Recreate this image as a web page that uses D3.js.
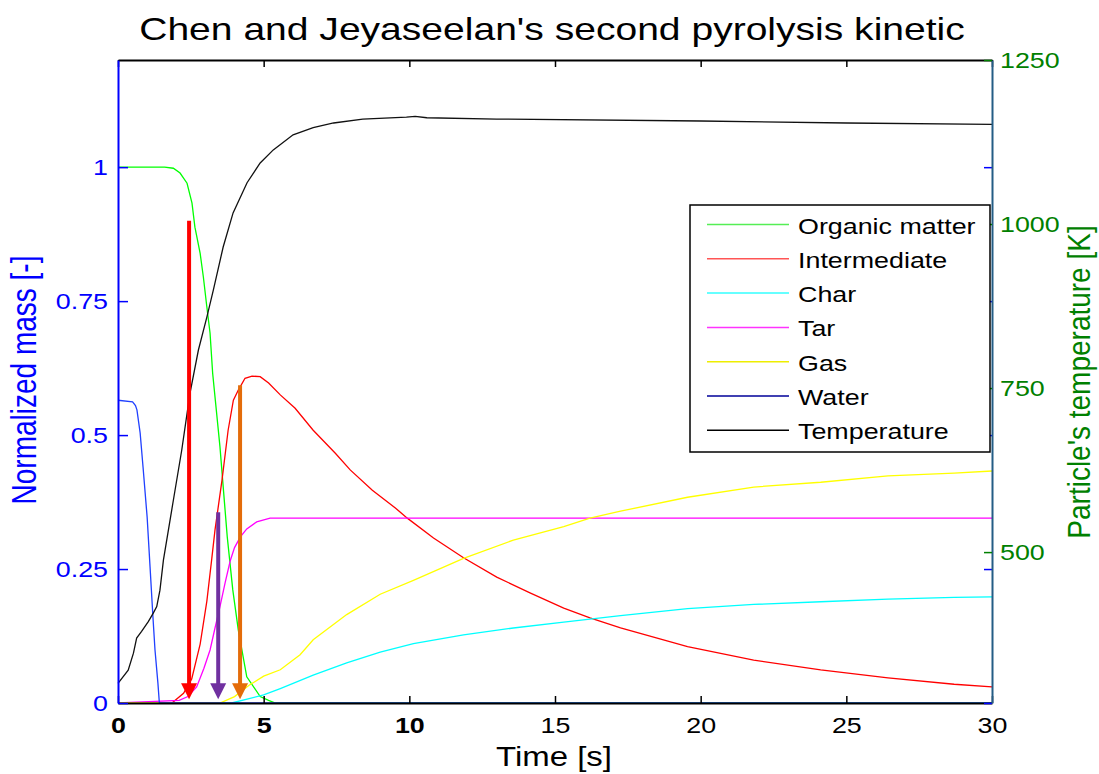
<!DOCTYPE html>
<html>
<head>
<meta charset="utf-8">
<script src="https://cdn.jsdelivr.net/npm/d3@7"></script>
<style>
  body { margin: 0; background: #fff; }
</style>
</head>
<body>
<svg id="chart" width="1099" height="774"></svg>
<script>
// ---- Data: normalized mass of each species [-] vs time [s] ----
const organicMatter = [[0,1],[1.6,1],[1.9,0.998],[2.13,0.989],[2.37,0.97],[2.54,0.933],[2.64,0.888],[2.82,0.839],[2.93,0.795],[3.05,0.739],[3.16,0.69],[3.25,0.615],[3.33,0.571],[3.5,0.478],[3.75,0.31],[3.94,0.211],[4.13,0.136],[4.42,0.049],[4.88,0.012],[5.17,0.005],[5.4,0],[30,0]];
const intermediate = [[0,0],[1.85,0],[2.25,0.018],[2.53,0.045],[2.82,0.11],[3.05,0.19],[3.22,0.27],[3.33,0.323],[3.57,0.416],[3.78,0.509],[3.96,0.565],[4.13,0.584],[4.36,0.606],[4.6,0.61],[4.88,0.609],[5.17,0.597],[5.57,0.575],[6.08,0.55],[6.7,0.509],[7.46,0.466],[7.97,0.435],[8.73,0.397],[9.52,0.364],[9.93,0.345],[10.83,0.308],[11.86,0.271],[13.0,0.235],[14.16,0.205],[15.3,0.177],[16.2,0.159],[17.25,0.14],[19.55,0.105],[21.82,0.08],[24.12,0.062],[26.43,0.047],[28.7,0.035],[30,0.03]];
const charMass = [[0,0],[3.9,0],[4.5,0.008],[5.0,0.015],[5.57,0.027],[6.7,0.052],[7.85,0.075],[9.0,0.095],[10.14,0.111],[11.86,0.127],[13.57,0.14],[15.3,0.151],[17.25,0.163],[19.55,0.176],[21.82,0.184],[24.12,0.189],[26.43,0.194],[28.7,0.197],[30,0.198]];
const tar = [[0,0],[2.1,0.005],[2.4,0.012],[2.7,0.03],[2.95,0.065],[3.16,0.099],[3.33,0.14],[3.5,0.18],[3.68,0.225],[3.85,0.265],[4.0,0.29],[4.2,0.31],[4.42,0.325],[4.76,0.338],[5.22,0.345],[30,0.345]];
const gas = [[0,0],[3.5,0],[4.0,0.012],[4.5,0.033],[5.0,0.05],[5.57,0.062],[6.25,0.09],[6.7,0.118],[7.85,0.165],[9.0,0.203],[10.14,0.229],[11.86,0.27],[13.57,0.304],[15.3,0.329],[16.2,0.345],[17.25,0.358],[19.55,0.384],[21.82,0.403],[24.12,0.412],[26.43,0.424],[28.7,0.429],[30,0.433]];
const water = [[0,0.565],[0.5,0.562],[0.6,0.555],[0.65,0.547],[0.76,0.504],[0.86,0.44],[1.0,0.347],[1.1,0.254],[1.2,0.16],[1.27,0.099],[1.37,0.037],[1.42,0],[30,0]];

// ---- Data: particle temperature [K] vs time [s] ----
const temperature = [[0,300],[0.35,320],[0.53,346],[0.64,369],[0.81,379],[1.04,394],[1.21,407],[1.33,417],[1.44,442],[1.56,488],[1.9,579],[2.19,656],[2.47,742],[2.76,808],[3.05,858],[3.27,899],[3.61,965],[3.95,1017],[4.43,1063],[4.88,1093],[5.33,1113],[6.01,1136],[6.7,1147],[7.4,1154],[8.4,1160],[9.9,1163],[10.2,1164],[10.6,1162],[13,1160],[20,1157],[25,1154],[30,1152]];

// ---- Series names, colours and ticks ----
const legendNames = ["Organic matter","Intermediate","Char","Tar","Gas","Water","Temperature"];
const seriesColors = ["#00ff00","#ff0000","#00ffff","#ff00ff","#ffff00","#0000ff","#000000"];
const legendColors = ["#55ee55","#ff5555","#33ffff","#ff33ff","#eeee00","#000099","#000000"];
const massTicks = [0,0.25,0.5,0.75,1];
const massTickLabels = ["0","0.25","0.5","0.75","1"];
const tempTicks = [500,750,1000,1250];
const tempTickLabels = ["500","750","1000","1250"];
const timeTicks = [0,5,10,15,20,25,30];

// ---- Annotation arrows (time [s], start mass, end mass) ----
const arrowTimes = [2.44,3.44,4.19];
const arrowTops = [0.9,0.356,0.593];
const arrowTip = 0.007;
const arrowColors = ["#ff0000","#7030a0","#e46c0a"];

// ---- Layout ----
const FONT = '"Liberation Sans", Arial, Helvetica, sans-serif';
const WIDE = 1.22;           // horizontal stretch of all lettering
const plotLeft = 118, plotRight = 992, plotTop = 60, plotBottom = 703;

const svg = d3.select("#chart");
svg.append("rect").attr("width",1099).attr("height",774).attr("fill","#fff");

const x = d3.scaleLinear().domain([0,30]).range([plotLeft,plotRight]);
const yMass = d3.scaleLinear().domain([0,1.2]).range([plotBottom,plotTop]);
const yTemp = d3.scaleLinear().domain([270,1250]).range([plotBottom,plotTop]);

function widen(sel) {
  sel.each(function() {
    const w = this.getComputedTextLength();
    d3.select(this).attr("textLength", w*WIDE).attr("lengthAdjust","spacingAndGlyphs");
  });
}

// ---- Curves ----
const massLine = d3.line().x(d => x(d[0])).y(d => yMass(d[1]));
const tempLine = d3.line().x(d => x(d[0])).y(d => yTemp(d[1]));
const massSeries = [organicMatter, intermediate, charMass, tar, gas, water];
const plot = svg.append("g");
massSeries.forEach((s,i) => {
  plot.append("path").attr("d", massLine(s)).attr("fill","none")
    .attr("stroke", i === 5 ? "#2040ff" : seriesColors[i]).attr("stroke-width",1.3);
});
plot.append("path").attr("d", tempLine(temperature)).attr("fill","none")
  .attr("stroke","#111").attr("stroke-width",1.3);

// ---- Axes ----
function styleAxis(g, color, width) {
  g.attr("font-family", FONT).attr("font-size", 22);
  g.select(".domain").attr("stroke", color).attr("stroke-width", width);
  g.selectAll(".tick line").attr("stroke", color).attr("stroke-width", 1.5);
  g.selectAll(".tick text").attr("fill", color);
}

const gTop = svg.append("g").attr("transform",`translate(0,${plotTop})`)
  .call(d3.axisTop(x).tickValues(timeTicks).tickSize(-7).tickSizeOuter(0).tickFormat(""));
styleAxis(gTop, "#000", 2);

const gBottom = svg.append("g").attr("transform",`translate(0,${plotBottom})`)
  .call(d3.axisBottom(x).tickValues(timeTicks).tickSize(-7).tickSizeOuter(0).tickPadding(14));
styleAxis(gBottom, "#000", 2);
gBottom.selectAll(".tick text").attr("font-weight", d => d <= 10 ? "bold" : "normal");
widen(gBottom.selectAll(".tick text"));

const gRightMass = svg.append("g").attr("transform",`translate(${plotRight},0)`)
  .call(d3.axisRight(yMass).tickValues(massTicks).tickSize(-8).tickSizeOuter(0).tickFormat(""));
styleAxis(gRightMass, "#0000ff", 0);
gRightMass.select(".domain").remove();

const gRight = svg.append("g").attr("transform",`translate(${plotRight},0)`)
  .call(d3.axisRight(yTemp).tickValues(tempTicks).tickFormat((d,i) => tempTickLabels[i])
    .tickSize(-8).tickSizeOuter(0).tickPadding(8));
styleAxis(gRight, "#008000", 2);
gRight.select(".domain").attr("stroke","#245d85");
widen(gRight.selectAll(".tick text"));

const gLeft = svg.append("g").attr("transform",`translate(${plotLeft},0)`)
  .call(d3.axisLeft(yMass).tickValues(massTicks).tickFormat((d,i) => massTickLabels[i])
    .tickSize(-10).tickSizeOuter(0).tickPadding(10));
styleAxis(gLeft, "#0000ff", 2);
widen(gLeft.selectAll(".tick text"));

// ---- Arrows ----
const headW = 16, headH = 16;
const arrows = svg.append("g").selectAll("g").data(arrowTimes).join("g");
arrows.append("line")
  .attr("x1", d => x(d)).attr("x2", d => x(d))
  .attr("y1", (d,i) => yMass(arrowTops[i]))
  .attr("y2", () => yMass(arrowTip) - headH + 1)
  .attr("stroke", (d,i) => arrowColors[i]).attr("stroke-width", 4);
arrows.append("path")
  .attr("d", d => {
    const ax = x(d), ty = yMass(arrowTip);
    return `M${ax - headW/2},${ty - headH}L${ax + headW/2},${ty - headH}L${ax},${ty}Z`;
  })
  .attr("fill", (d,i) => arrowColors[i]);

// ---- Legend ----
const legend = svg.append("g");
legend.append("rect").attr("x",690).attr("y",205).attr("width",300).attr("height",247)
  .attr("fill","#fff").attr("stroke","#000").attr("stroke-width",1.5);
const rows = legend.selectAll("g.row").data(legendNames).join("g")
  .attr("class","row").attr("transform",(d,i) => `translate(0,${224.5 + i*34.3})`);
rows.append("line").attr("x1",707).attr("x2",789).attr("y1",0).attr("y2",0)
  .attr("stroke",(d,i) => legendColors[i]).attr("stroke-width",1.5);
rows.append("text").attr("x",798).attr("y",9).attr("font-family",FONT).attr("font-size",22)
  .attr("fill","#000").text(d => d);
widen(rows.selectAll("text"));

// ---- Titles ----
svg.append("text").attr("x",552).attr("y",40).attr("text-anchor","middle")
  .attr("font-family",FONT).attr("font-size",32).attr("fill","#000")
  .text("Chen and Jeyaseelan's second pyrolysis kinetic").call(widen);

svg.append("text").attr("x",554).attr("y",766).attr("text-anchor","middle")
  .attr("font-family",FONT).attr("font-size",27).attr("fill","#000")
  .text("Time [s]").call(widen);

svg.append("text").attr("transform",`translate(36,380) scale(${WIDE},1) rotate(-90)`)
  .attr("text-anchor","middle").attr("font-family",FONT).attr("font-size",28)
  .attr("fill","#0000ff").text("Normalized mass [-]");

svg.append("text").attr("transform",`translate(1090,382) scale(1.15,1) rotate(-90)`)
  .attr("text-anchor","middle").attr("font-family",FONT).attr("font-size",28)
  .attr("fill","#008000").text("Particle's temperature [K]");
</script>
</body>
</html>
